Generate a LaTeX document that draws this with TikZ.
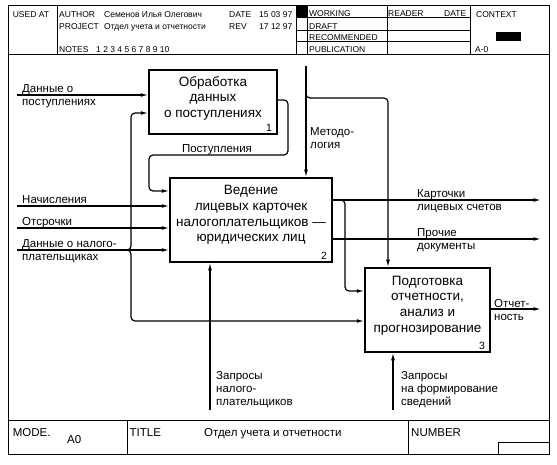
\documentclass[tikz,border=0pt]{standalone}
\usepackage{fontspec}
\setmainfont{Liberation Sans}
\usetikzlibrary{arrows.meta}

\newcommand\procfont{\fontsize{13.5}{15.6}\selectfont}
\newcommand\arrfont{\fontsize{11.5}{13}\selectfont}
\newcommand\hdrfont{\fontsize{8.5}{10}\selectfont}
\newcommand\ftrfont{\fontsize{11.5}{13}\selectfont}

\tikzset{
  frame/.style={line width=1pt},
  procbox/.style={draw, line width=1.5pt, align=center, inner sep=0pt, font=\procfont},
  procnum/.style={anchor=south east, inner xsep=5.7pt, inner ysep=3pt, font=\fontsize{10.5}{12}\selectfont},
  flow/.style={line width=1.2pt, rounded corners=4pt, -{Latex[length=7.5pt,width=3.8pt]}},
  flowlab/.style={align=left, inner sep=0pt, font=\arrfont},
  hdr/.style={anchor=base west, inner sep=0pt, font=\hdrfont},
  ftr/.style={anchor=base west, inner sep=0pt, font=\ftrfont}
}

\begin{document}
\begin{tikzpicture}[x=1pt,y=-1pt]
		\useasboundingbox (0,0) rectangle (557,465);
		% form
		\draw[frame] (8,6) rectangle (549,454);
		\draw[frame] (8,55) -- (549,55);
		\draw[frame] (8,420) -- (549,420);
		\draw[frame] (57,6) -- (57,55);
		\draw[frame] (296,6) -- (296,55);
		\draw[frame] (307,6) -- (307,55);
		\draw[frame] (387,6) -- (387,55);
		\draw[frame] (470,6) -- (470,55);
		\foreach \yy in {18,31,42} \draw[frame] (296,\yy) -- (470,\yy);
		\fill (296,6) rectangle (307,18);
		\fill (496,32) rectangle (521,41);
		\draw[frame] (127,420) -- (127,454);
		\draw[frame] (408,420) -- (408,454);
		\draw[frame] (498,454) -- (498,442) -- (549,442);
		\node[hdr] (h-used) at (12.6,18) {USED AT};
		\node[hdr] (h-auth) at (59,18) {AUTHOR};
		\node[hdr] (h-name) at (104,18) {Семенов Илья Олегович};
		\node[hdr] (h-date) at (229,18) {DATE};
		\node[hdr] (h-dval) at (259,18) {15 03 97};
		\node[hdr] (h-proj) at (59,30) {PROJECT};
		\node[hdr] (h-pval) at (104,30) {Отдел учета и отчетности};
		\node[hdr] (h-rev) at (229,30) {REV};
		\node[hdr] (h-rval) at (259,30) {17 12 97};
		\node[hdr] (h-notes) at (59,53) {NOTES};
		\node[hdr] (h-nval) at (96,53) {1 2 3 4 5 6 7 8 9 10};
		\node[hdr] (h-work) at (309,17) {WORKING};
		\node[hdr] (h-draft) at (309,29.5) {DRAFT};
		\node[hdr] (h-rec) at (309,41) {RECOMMENDED};
		\node[hdr] (h-pub) at (309,53) {PUBLICATION};
		\node[hdr] (h-read) at (388,17) {READER};
		\node[hdr] (h-rdate) at (444,17) {DATE};
		\node[hdr] (h-ctx) at (476,18) {CONTEXT};
		\node[hdr] (h-a0) at (475,53) {A-0};
		\node[ftr] (f-mode) at (12.6,436) {MODE.};
		\node[ftr] (f-a0) at (67,443) {A0};
		\node[ftr] (f-title) at (129.5,436) {TITLE};
		\node[ftr] (f-tval) at (204,436) {Отдел учета и отчетности};
		\node[ftr] (f-num) at (411,436) {NUMBER};
		% functions
		\node[procbox, minimum width=128pt, minimum height=64pt, text depth=10pt] (obrab) at (213,102) {Обработка\\данных\\о поступлениях};
		\node[procnum] (obrab-n) at (obrab.south east) {1};
		\node[procbox, minimum width=162pt, minimum height=84pt, text depth=12.8pt] (vedenie) at (251,220) {Ведение\\лицевых карточек\\налогоплательщиков —\\юридических лиц};
		\node[procnum] (vedenie-n) at (vedenie.south east) {2};
		\node[procbox, minimum width=125pt, minimum height=84pt, text depth=11.8pt] (podg) at (427.5,310) {Подготовка\\отчетности,\\анализ и\\прогнозирование};
		\node[procnum] (podg-n) at (podg.south east) {3};
		% free ends
		\coordinate (in-dpost) at (17,95);
		\coordinate (in-nach) at (17,206);
		\coordinate (in-otsr) at (17,228);
		\coordinate (in-dnal) at (17,250);
		\coordinate (ctl-met) at (306,66);
		\coordinate (mech-zn) at (210,410);
		\coordinate (mech-zf) at (393,410);
		\coordinate (out-kart) at (541,200);
		\coordinate (out-proch) at (541,239);
		\coordinate (out-otch) at (541,309);
		% arrows
		\draw[flow] (in-dpost) -- (in-dpost -| obrab.west);
		\draw[flow] (in-nach) -- (in-nach -| vedenie.west);
		\draw[flow] (in-otsr) -- (in-otsr -| vedenie.west);
		\draw[flow] (in-dnal) -- (in-dnal -| vedenie.west);
		\draw[flow] (125,250) -- (131,250) -- (131,113) -- (obrab.west |- 0,113);
		\draw[flow] (125,250) -- (131,250) -- (131,321) -- (podg.west |- 0,321);
		\draw[flow] (obrab.east |- 0,100) -- (288,100) -- (288,155) -- (149,155) -- (149,191) -- (vedenie.west |- 0,191);
		\draw[flow] (ctl-met) -- (ctl-met |- vedenie.north);
		\draw[flow] (306,92) -- (306,98) -- (388,98) -- (podg.north -| 388,0);
		\draw[flow] (vedenie.east |- out-kart) -- (out-kart);
		\draw[flow] (vedenie.east |- out-proch) -- (out-proch);
		\draw[flow] (339,200) -- (345,200) -- (345,291) -- (podg.west |- 0,291);
		\draw[flow] (podg.east |- out-otch) -- (out-otch);
		\draw[flow] (mech-zn) -- (mech-zn |- vedenie.south);
		\draw[flow] (mech-zf) -- (mech-zf |- podg.south);
		% labels
		\node[flowlab, anchor=west] (l-dpost) at (22,96.5) {Данные о\\поступлениях};
		\node[flowlab, anchor=base west] (l-nach) at (22,204) {Начисления};
		\node[flowlab, anchor=base west] (l-otsr) at (22,226) {Отсрочки};
		\node[flowlab, anchor=west] (l-dnal) at (22,251.5) {Данные о налого-\\плательщиках};
		\node[flowlab, anchor=base] (l-post) at (217,153) {Поступления};
		\node[flowlab, anchor=west] (l-met) at (310,138) {Методо-\\логия};
		\node[flowlab, anchor=west] (l-kart) at (417,201.5) {Карточки\\лицевых счетов};
		\node[flowlab, anchor=west] (l-proch) at (417,240.5) {Прочие\\документы};
		\node[flowlab, anchor=west] (l-otch) at (494,310.5) {Отчет-\\ность};
		\node[flowlab, anchor=west] (l-zn) at (216,390) {Запросы\\налого-\\плательщиков};
		\node[flowlab, anchor=west] (l-zf) at (401,390) {Запросы\\на формирование\\сведений};
	\end{tikzpicture}
\end{document}
